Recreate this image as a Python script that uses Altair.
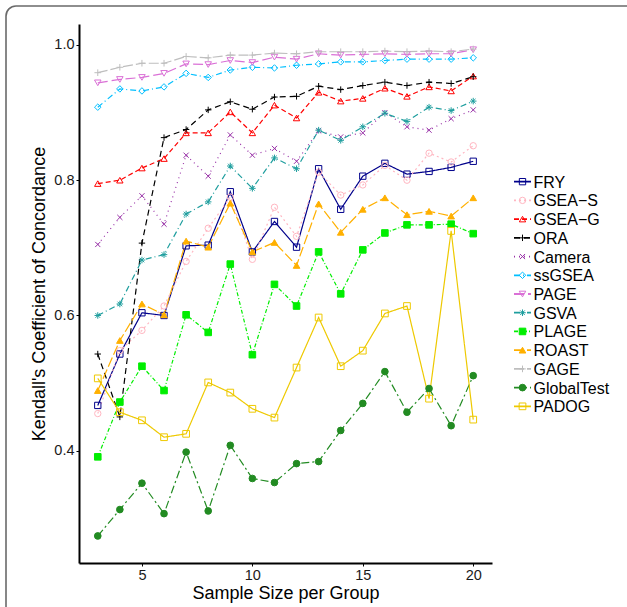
import altair as alt
import pandas as pd

sample_size = list(range(3, 21))

series_names = ["FRY", "GSEA−S", "GSEA−G", "ORA", "Camera", "ssGSEA", "PAGE",
                "GSVA", "PLAGE", "ROAST", "GAGE", "GlobalTest", "PADOG"]

FRY = [0.467, 0.543, 0.604, 0.600, 0.703, 0.704, 0.783, 0.694, 0.739, 0.701, 0.817, 0.757, 0.806, 0.825, 0.809, 0.813, 0.819, 0.828]
GSEA_S = [0.455, 0.548, 0.578, 0.614, 0.680, 0.729, 0.775, 0.683, 0.760, 0.717, 0.812, 0.778, 0.793, 0.822, 0.800, 0.840, 0.827, 0.851]
GSEA_G = [0.795, 0.800, 0.818, 0.832, 0.870, 0.870, 0.901, 0.870, 0.911, 0.892, 0.930, 0.917, 0.921, 0.936, 0.924, 0.938, 0.932, 0.954]
ORA = [0.543, 0.450, 0.707, 0.863, 0.875, 0.904, 0.916, 0.905, 0.923, 0.924, 0.939, 0.934, 0.940, 0.945, 0.940, 0.945, 0.943, 0.953]
Camera = [0.705, 0.745, 0.777, 0.735, 0.837, 0.806, 0.867, 0.837, 0.847, 0.828, 0.873, 0.864, 0.870, 0.900, 0.879, 0.874, 0.891, 0.904]
ssGSEA = [0.908, 0.935, 0.932, 0.938, 0.958, 0.952, 0.963, 0.967, 0.966, 0.970, 0.972, 0.975, 0.975, 0.977, 0.979, 0.979, 0.979, 0.981]
PAGE = [0.944, 0.949, 0.952, 0.958, 0.972, 0.971, 0.977, 0.974, 0.982, 0.979, 0.987, 0.985, 0.986, 0.987, 0.986, 0.987, 0.987, 0.993]
GSVA = [0.600, 0.617, 0.682, 0.690, 0.750, 0.768, 0.821, 0.788, 0.833, 0.817, 0.874, 0.859, 0.879, 0.899, 0.887, 0.908, 0.903, 0.917]
PLAGE = [0.391, 0.472, 0.525, 0.489, 0.601, 0.575, 0.676, 0.542, 0.646, 0.614, 0.694, 0.632, 0.697, 0.722, 0.734, 0.734, 0.735, 0.721]
ROAST = [0.489, 0.563, 0.617, 0.601, 0.710, 0.701, 0.766, 0.694, 0.708, 0.674, 0.765, 0.723, 0.757, 0.774, 0.749, 0.754, 0.747, 0.774]
GAGE = [0.959, 0.967, 0.973, 0.973, 0.983, 0.981, 0.985, 0.985, 0.988, 0.987, 0.990, 0.990, 0.990, 0.991, 0.990, 0.991, 0.990, 0.994]
GlobalTest = [0.274, 0.313, 0.352, 0.307, 0.398, 0.311, 0.408, 0.359, 0.353, 0.381, 0.384, 0.430, 0.470, 0.517, 0.457, 0.492, 0.437, 0.511]
PADOG = [0.507, 0.457, 0.445, 0.420, 0.425, 0.501, 0.486, 0.462, 0.449, 0.523, 0.597, 0.525, 0.548, 0.603, 0.614, 0.477, 0.725, 0.446]

values = [FRY, GSEA_S, GSEA_G, ORA, Camera, ssGSEA, PAGE, GSVA, PLAGE, ROAST, GAGE, GlobalTest, PADOG]

colors = ["#00008B", "#FFB6C1", "#FF0000", "#000000", "#9932A8", "#00BFFF", "#DA70D6",
          "#1E9E9E", "#00EE00", "#FFB000", "#BEBEBE", "#228B22", "#EEC900"]
fills = ["transparent", "transparent", "transparent", "transparent", "transparent", "transparent",
         "transparent", "transparent", "#00EE00", "#FFB000", "#BEBEBE", "#228B22", "transparent"]
dashes = [[1, 0], [2, 3], [5, 3], [6, 4], [1, 4], [6, 3, 1, 3], [10, 4],
          [6, 3, 1, 3], [4, 2, 1, 2], [10, 3], [10, 3], [8, 3, 2, 3], [1, 0]]
PLUS = "M-1,0L1,0M0,-1L0,1"
XSHAPE = "M-0.8,-0.8L0.8,0.8M-0.8,0.8L0.8,-0.8"
STAR = "M-1,0L1,0M0,-1L0,1M-0.7,-0.7L0.7,0.7M-0.7,0.7L0.7,-0.7"
GSTAR = "M-1,0L1,0M0,-1L0,1"
shapes = ["square", "circle", "triangle-up", PLUS, XSHAPE, "diamond", "triangle-down",
          STAR, "square", "triangle-up", GSTAR, "circle", "square"]
sizes = [40, 45, 45, 70, 45, 55, 45, 60, 40, 45, 25, 22, 40]
strokes_w = [1, 1, 1, 1, 1, 1, 1, 1, 1, 1, 2, 1, 1]

rows = []
for name, vals in zip(series_names, values):
    for xv, yv in zip(sample_size, vals):
        rows.append({"series": name, "n": xv, "kcc": yv})
df = pd.DataFrame(rows)
legend_df = pd.DataFrame({"series": series_names})

FONT = "Liberation Sans"

color_scale = alt.Scale(domain=series_names, range=colors)
fill_scale = alt.Scale(domain=series_names, range=fills)
dash_scale = alt.Scale(domain=series_names, range=dashes)
shape_scale = alt.Scale(domain=series_names, range=shapes)
size_scale = alt.Scale(domain=series_names, range=sizes)
sw_scale = alt.Scale(domain=series_names, range=strokes_w)

x_enc = alt.X("n:Q", scale=alt.Scale(domain=[2.15, 20.85], nice=False, zero=False),
              axis=alt.Axis(values=[5, 10, 15, 20], title="Sample Size per Group",
                            titleY=35, titleBaseline="alphabetic"))
y_enc = alt.Y("kcc:Q", scale=alt.Scale(domain=[0.234, 1.031], nice=False, zero=False),
              axis=alt.Axis(values=[0.4, 0.6, 0.8, 1.0], format=".1f",
                            title="Kendall's Coefficient of Concordance",
                            titleX=-40, titleY=269.5, titleBaseline="middle", titleAngle=270))

lines = alt.Chart(df).mark_line(strokeWidth=1.2).encode(
    x=x_enc, y=y_enc,
    color=alt.Color("series:N", scale=color_scale, legend=None),
    strokeDash=alt.StrokeDash("series:N", scale=dash_scale, legend=None),
)

points = alt.Chart(df).mark_point(opacity=1).encode(
    x=x_enc, y=y_enc,
    stroke=alt.Stroke("series:N", scale=color_scale, legend=None),
    fill=alt.Fill("series:N", scale=fill_scale, legend=None),
    shape=alt.Shape("series:N", scale=shape_scale, legend=None),
    size=alt.Size("series:N", scale=size_scale, legend=None),
    strokeWidth=alt.StrokeWidth("series:N", scale=sw_scale, legend=None),
)

main = alt.layer(lines, points)

leg_y = alt.Y("series:N", scale=alt.Scale(domain=series_names, range=[148.3, 391.7], padding=0), axis=None)

leg_lines = alt.Chart(legend_df).mark_rule(strokeWidth=1.8).encode(
    y=leg_y, x=alt.value(435), x2=alt.value(452),
    color=alt.Color("series:N", scale=color_scale, legend=None),
    strokeDash=alt.StrokeDash("series:N", scale=dash_scale, legend=None),
)
leg_points = alt.Chart(legend_df).mark_point(opacity=1).encode(
    y=leg_y, x=alt.value(443.5),
    stroke=alt.Stroke("series:N", scale=color_scale, legend=None),
    fill=alt.Fill("series:N", scale=fill_scale, legend=None),
    shape=alt.Shape("series:N", scale=shape_scale, legend=None),
    size=alt.Size("series:N", scale=size_scale, legend=None),
    strokeWidth=alt.StrokeWidth("series:N", scale=sw_scale, legend=None),
)
leg_text = alt.Chart(legend_df).mark_text(align="left", baseline="middle", fontSize=16,
                                          font=FONT, color="#000000", dy=1).encode(
    y=leg_y, x=alt.value(454.5), text="series:N",
)
legend = alt.layer(leg_lines, leg_points, leg_text)

frame = alt.Chart(pd.DataFrame({"k": [0]})).mark_rect(
    fill="transparent", stroke="#6a6a6a", strokeWidth=1.6, cornerRadius=10
).encode(x=alt.value(-73), x2=alt.value(600), y=alt.value(-18), y2=alt.value(640))

chart = alt.layer(frame, main, legend).resolve_scale(
    y="independent"
).properties(
    width=413, height=539,
    autosize=alt.AutoSizeParams(type="none"),
    padding={"left": 79, "top": 24, "right": 135, "bottom": 44},
    background="white",
).configure_view(stroke=None).configure_axis(
    grid=False, domainColor="#000000", domainWidth=2, tickColor="#000000", tickSize=3,
    tickWidth=1, labelFont=FONT, labelFontSize=14.5, labelColor="#1a1a1a", labelPadding=2,
    titleFont=FONT, titleFontSize=18, titleFontWeight="normal", titleColor="#000000",
)

chart.save("out.html", embed_options={"renderer": "svg", "actions": False})
